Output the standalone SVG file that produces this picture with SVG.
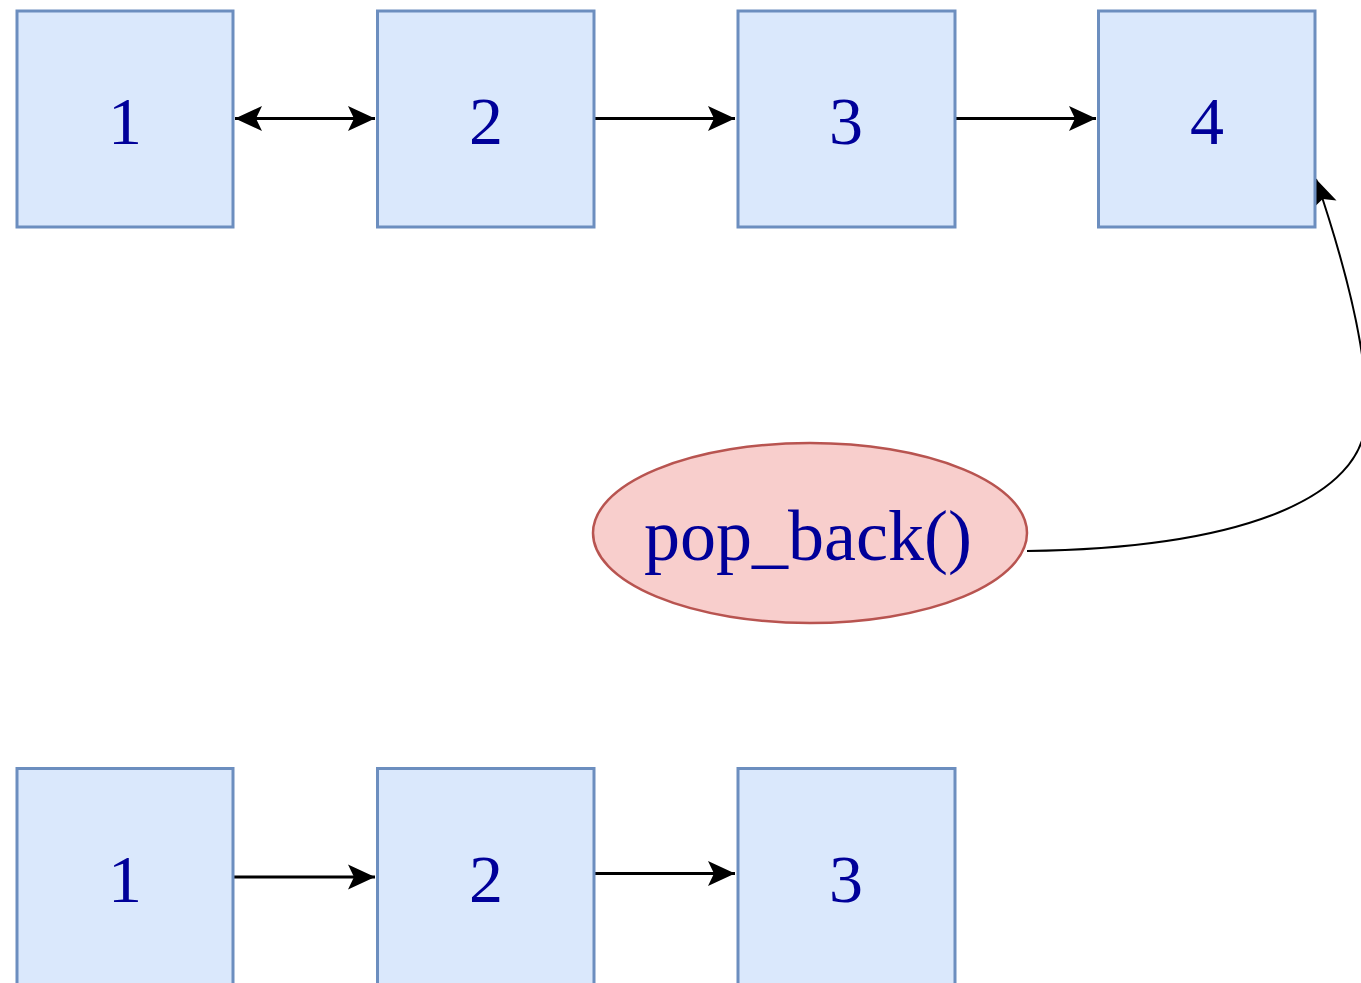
<svg xmlns="http://www.w3.org/2000/svg" width="1361" height="983" viewBox="0 0 1361 983">
  <style>
    .box { fill: #dae8fc; stroke: #6c8ebf; stroke-width: 3; }
    .oval { fill: #f8cecc; stroke: #b85450; stroke-width: 2.5; }
    .label { font-family: "Liberation Serif", "Times New Roman", serif; fill: #000099; text-anchor: middle; }
    .num { font-size: 68px; }
    .op { font-size: 72px; }
    .edge { fill: none; stroke: #000; stroke-width: 3; }
    .curve { fill: none; stroke: #000; stroke-width: 2; }
  </style>
  <defs>
    <marker id="arrow" viewBox="-30 -15 32 30" markerWidth="32" markerHeight="30" refX="0" refY="0" orient="auto-start-reverse" markerUnits="userSpaceOnUse" overflow="visible">
      <path d="M0,0 L-27,-12.5 L-21,0 L-27,12.5 Z" fill="#000" stroke="none"/>
    </marker>
  </defs>

  <rect width="1361" height="983" fill="#ffffff"/>

  <!-- connectors -->
  <g id="connectors">
    <path class="edge" d="M235,118.5 L375,118.5" marker-start="url(#arrow)" marker-end="url(#arrow)"/>
    <path class="edge" d="M594,118.5 L735,118.5" marker-end="url(#arrow)"/>
    <path class="edge" d="M955,118.5 L1096,118.5" marker-end="url(#arrow)"/>
    <path class="edge" d="M233,877 L375,877" marker-end="url(#arrow)"/>
    <path class="edge" d="M594,873.5 L735,873.5" marker-end="url(#arrow)"/>
    <path class="curve" d="M1027,551 C1250,548 1362,495 1366,420 C1370,350 1340,250 1316,179" marker-end="url(#arrow)"/>
  </g>

  <!-- original list -->
  <g id="top-1">
    <rect class="box" x="17" y="11" width="216" height="216"/>
    <text class="label num" x="125" y="144">1</text>
  </g>
  <g id="top-2">
    <rect class="box" x="377.5" y="11" width="216.5" height="216"/>
    <text class="label num" x="486" y="144">2</text>
  </g>
  <g id="top-3">
    <rect class="box" x="738" y="11" width="217" height="216"/>
    <text class="label num" x="846" y="144">3</text>
  </g>
  <g id="top-4">
    <rect class="box" x="1098.5" y="11" width="216.5" height="216"/>
    <text class="label num" x="1207" y="144">4</text>
  </g>

  <!-- operation -->
  <g id="pop-back">
    <ellipse class="oval" cx="810" cy="533" rx="217" ry="90"/>
    <text class="label op" x="808" y="560">pop_back()</text>
  </g>

  <!-- resulting list -->
  <g id="bottom-1">
    <rect class="box" x="17" y="768.5" width="216" height="230"/>
    <text class="label num" x="125" y="902">1</text>
  </g>
  <g id="bottom-2">
    <rect class="box" x="377.5" y="768.5" width="216.5" height="230"/>
    <text class="label num" x="486" y="902">2</text>
  </g>
  <g id="bottom-3">
    <rect class="box" x="738" y="768.5" width="217" height="230"/>
    <text class="label num" x="846" y="902">3</text>
  </g>
</svg>
